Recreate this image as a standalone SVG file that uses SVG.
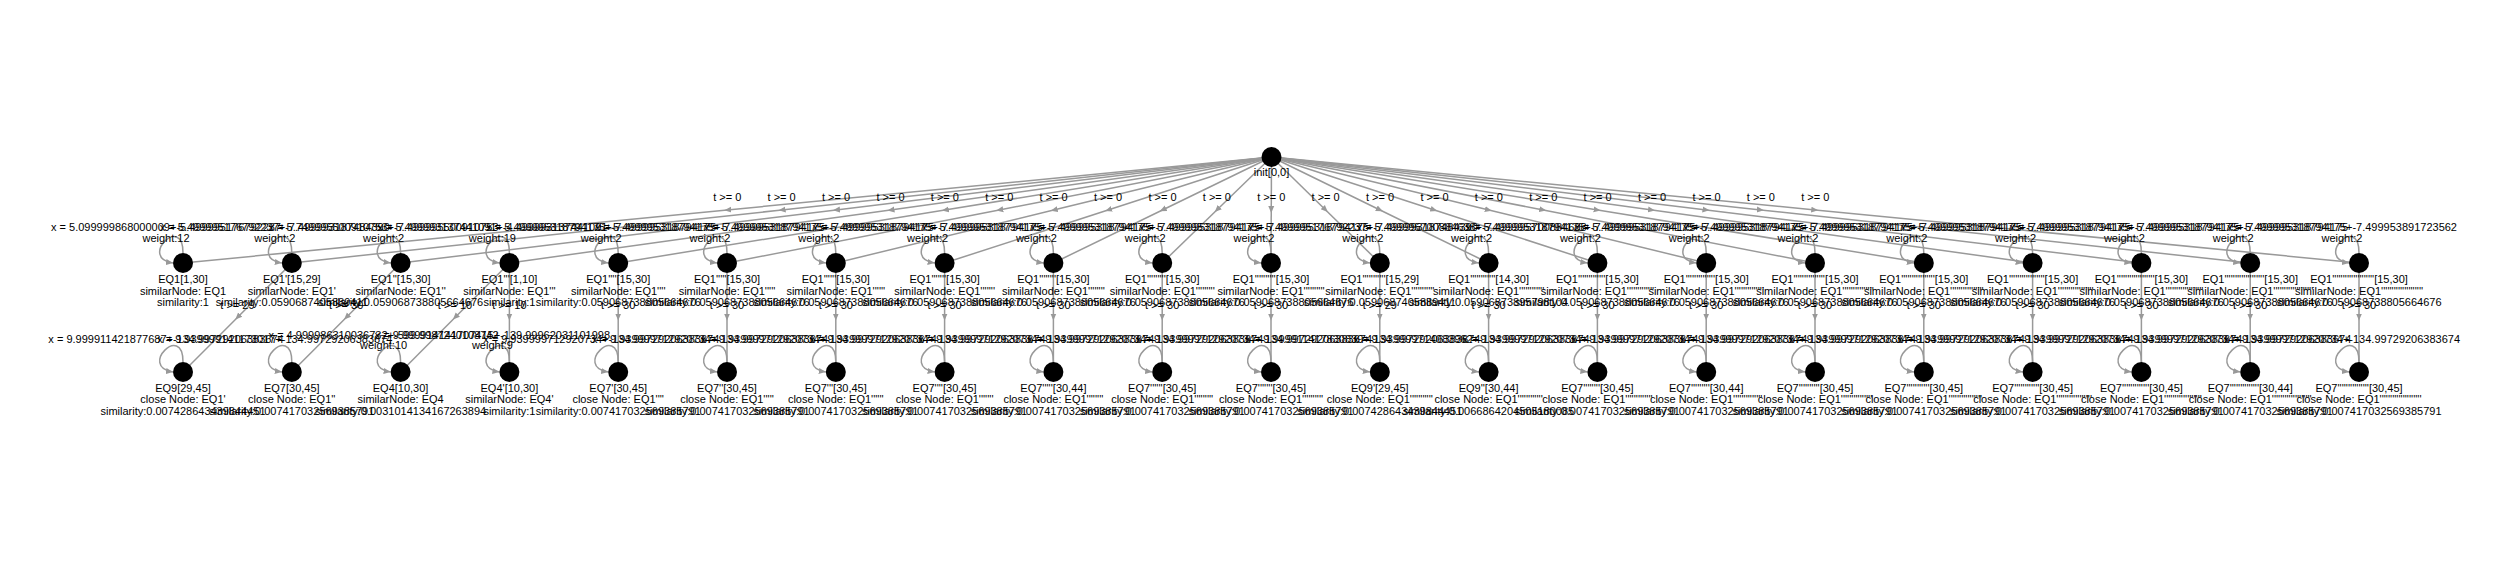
<svg xmlns="http://www.w3.org/2000/svg" width="2500" height="562" viewBox="0 0 2500 562">
<defs>
<style>
.e{fill:none;stroke:#999;stroke-width:1.5;marker-mid:url(#am)}
.l{fill:none;stroke:#999;stroke-width:1.5;marker-end:url(#ae)}
.n{fill:#000}
text{font-family:"Liberation Sans",Arial,sans-serif;font-size:11px;fill:#000;text-anchor:middle}
</style>
<marker id="am" markerWidth="8" markerHeight="8" refX="4" refY="4" orient="auto" markerUnits="userSpaceOnUse"><path d="M0,1 L7,4 L0,7 z" fill="#999"/></marker>
<marker id="ae" markerWidth="8" markerHeight="8" refX="7" refY="4" orient="auto" markerUnits="userSpaceOnUse"><path d="M0,1 L7,4 L0,7 z" fill="#999"/></marker>
</defs>
<rect width="2500" height="562" fill="#fff"/>
<g id="connectors">
<path class="e" d="M1271.5,157 L727.25,210 L183,263"/>
<path class="e" d="M1271.5,157 L781.65,210 L291.8,263"/>
<path class="e" d="M1271.5,157 L836.05,210 L400.6,263"/>
<path class="e" d="M1271.5,157 L890.45,210 L509.4,263"/>
<path class="e" d="M1271.5,157 L944.85,210 L618.2,263"/>
<path class="e" d="M1271.5,157 L999.25,210 L727,263"/>
<path class="e" d="M1271.5,157 L1053.65,210 L835.8,263"/>
<path class="e" d="M1271.5,157 L1108.05,210 L944.6,263"/>
<path class="e" d="M1271.5,157 L1162.45,210 L1053.4,263"/>
<path class="e" d="M1271.5,157 L1216.85,210 L1162.2,263"/>
<path class="e" d="M1271.5,157 L1271.25,210 L1271,263"/>
<path class="e" d="M1271.5,157 L1325.65,210 L1379.8,263"/>
<path class="e" d="M1271.5,157 L1380.05,210 L1488.6,263"/>
<path class="e" d="M1271.5,157 L1434.45,210 L1597.4,263"/>
<path class="e" d="M1271.5,157 L1488.85,210 L1706.2,263"/>
<path class="e" d="M1271.5,157 L1543.25,210 L1815,263"/>
<path class="e" d="M1271.5,157 L1597.65,210 L1923.8,263"/>
<path class="e" d="M1271.5,157 L1652.05,210 L2032.6,263"/>
<path class="e" d="M1271.5,157 L1706.45,210 L2141.4,263"/>
<path class="e" d="M1271.5,157 L1760.85,210 L2250.2,263"/>
<path class="e" d="M1271.5,157 L1815.25,210 L2359,263"/>
<text x="727.25" y="201">t &gt;= 0</text>
<text x="781.65" y="201">t &gt;= 0</text>
<text x="836.05" y="201">t &gt;= 0</text>
<text x="890.45" y="201">t &gt;= 0</text>
<text x="944.85" y="201">t &gt;= 0</text>
<text x="999.25" y="201">t &gt;= 0</text>
<text x="1053.65" y="201">t &gt;= 0</text>
<text x="1108.05" y="201">t &gt;= 0</text>
<text x="1162.45" y="201">t &gt;= 0</text>
<text x="1216.85" y="201">t &gt;= 0</text>
<text x="1271.25" y="201">t &gt;= 0</text>
<text x="1325.65" y="201">t &gt;= 0</text>
<text x="1380.05" y="201">t &gt;= 0</text>
<text x="1434.45" y="201">t &gt;= 0</text>
<text x="1488.85" y="201">t &gt;= 0</text>
<text x="1543.25" y="201">t &gt;= 0</text>
<text x="1597.65" y="201">t &gt;= 0</text>
<text x="1652.05" y="201">t &gt;= 0</text>
<text x="1706.45" y="201">t &gt;= 0</text>
<text x="1760.85" y="201">t &gt;= 0</text>
<text x="1815.25" y="201">t &gt;= 0</text>
<path class="e" d="M291.8,263 L237.4,317.5 L183,372"/>
<path class="e" d="M400.6,263 L346.2,317.5 L291.8,372"/>
<path class="e" d="M509.4,263 L455,317.5 L400.6,372"/>
<path class="e" d="M509.4,263 L509.4,317.5 L509.4,372"/>
<path class="e" d="M618.2,263 L618.2,317.5 L618.2,372"/>
<path class="e" d="M727,263 L727,317.5 L727,372"/>
<path class="e" d="M835.8,263 L835.8,317.5 L835.8,372"/>
<path class="e" d="M944.6,263 L944.6,317.5 L944.6,372"/>
<path class="e" d="M1053.4,263 L1053.4,317.5 L1053.4,372"/>
<path class="e" d="M1162.2,263 L1162.2,317.5 L1162.2,372"/>
<path class="e" d="M1271,263 L1271,317.5 L1271,372"/>
<path class="e" d="M1379.8,263 L1379.8,317.5 L1379.8,372"/>
<path class="e" d="M1488.6,263 L1488.6,317.5 L1488.6,372"/>
<path class="e" d="M1597.4,263 L1597.4,317.5 L1597.4,372"/>
<path class="e" d="M1706.2,263 L1706.2,317.5 L1706.2,372"/>
<path class="e" d="M1815,263 L1815,317.5 L1815,372"/>
<path class="e" d="M1923.8,263 L1923.8,317.5 L1923.8,372"/>
<path class="e" d="M2032.6,263 L2032.6,317.5 L2032.6,372"/>
<path class="e" d="M2141.4,263 L2141.4,317.5 L2141.4,372"/>
<path class="e" d="M2250.2,263 L2250.2,317.5 L2250.2,372"/>
<path class="e" d="M2359,263 L2359,317.5 L2359,372"/>
<text x="237.4" y="308.5">t &gt;= 29</text>
<text x="346.2" y="308.5">t &gt;= 30</text>
<text x="455" y="308.5">t &gt;= 10</text>
<text x="509.4" y="308.5">t &gt;= 10</text>
<text x="618.2" y="308.5">t &gt;= 30</text>
<text x="727" y="308.5">t &gt;= 30</text>
<text x="835.8" y="308.5">t &gt;= 30</text>
<text x="944.6" y="308.5">t &gt;= 30</text>
<text x="1053.4" y="308.5">t &gt;= 30</text>
<text x="1162.2" y="308.5">t &gt;= 30</text>
<text x="1271" y="308.5">t &gt;= 30</text>
<text x="1379.8" y="308.5">t &gt;= 29</text>
<text x="1488.6" y="308.5">t &gt;= 30</text>
<text x="1597.4" y="308.5">t &gt;= 30</text>
<text x="1706.2" y="308.5">t &gt;= 30</text>
<text x="1815" y="308.5">t &gt;= 30</text>
<text x="1923.8" y="308.5">t &gt;= 30</text>
<text x="2032.6" y="308.5">t &gt;= 30</text>
<text x="2141.4" y="308.5">t &gt;= 30</text>
<text x="2250.2" y="308.5">t &gt;= 30</text>
<text x="2359" y="308.5">t &gt;= 30</text>
<path class="l" d="M183,253 C183,213 138,258 173,263"/>
<path class="l" d="M291.8,253 C291.8,213 246.8,258 281.8,263"/>
<path class="l" d="M400.6,253 C400.6,213 355.6,258 390.6,263"/>
<path class="l" d="M509.4,253 C509.4,213 464.4,258 499.4,263"/>
<path class="l" d="M618.2,253 C618.2,213 573.2,258 608.2,263"/>
<path class="l" d="M727,253 C727,213 682,258 717,263"/>
<path class="l" d="M835.8,253 C835.8,213 790.8,258 825.8,263"/>
<path class="l" d="M944.6,253 C944.6,213 899.6,258 934.6,263"/>
<path class="l" d="M1053.4,253 C1053.4,213 1008.4,258 1043.4,263"/>
<path class="l" d="M1162.2,253 C1162.2,213 1117.2,258 1152.2,263"/>
<path class="l" d="M1271,253 C1271,213 1226,258 1261,263"/>
<path class="l" d="M1379.8,253 C1379.8,213 1334.8,258 1369.8,263"/>
<path class="l" d="M1488.6,253 C1488.6,213 1443.6,258 1478.6,263"/>
<path class="l" d="M1597.4,253 C1597.4,213 1552.4,258 1587.4,263"/>
<path class="l" d="M1706.2,253 C1706.2,213 1661.2,258 1696.2,263"/>
<path class="l" d="M1815,253 C1815,213 1770,258 1805,263"/>
<path class="l" d="M1923.8,253 C1923.8,213 1878.8,258 1913.8,263"/>
<path class="l" d="M2032.6,253 C2032.6,213 1987.6,258 2022.6,263"/>
<path class="l" d="M2141.4,253 C2141.4,213 2096.4,258 2131.4,263"/>
<path class="l" d="M2250.2,253 C2250.2,213 2205.2,258 2240.2,263"/>
<path class="l" d="M2359,253 C2359,213 2314,258 2349,263"/>
<path class="l" d="M183,362 C183,322 138,367 173,372"/>
<path class="l" d="M291.8,362 C291.8,322 246.8,367 281.8,372"/>
<path class="l" d="M400.6,362 C400.6,322 355.6,367 390.6,372"/>
<path class="l" d="M509.4,362 C509.4,322 464.4,367 499.4,372"/>
<path class="l" d="M618.2,362 C618.2,322 573.2,367 608.2,372"/>
<path class="l" d="M727,362 C727,322 682,367 717,372"/>
<path class="l" d="M835.8,362 C835.8,322 790.8,367 825.8,372"/>
<path class="l" d="M944.6,362 C944.6,322 899.6,367 934.6,372"/>
<path class="l" d="M1053.4,362 C1053.4,322 1008.4,367 1043.4,372"/>
<path class="l" d="M1162.2,362 C1162.2,322 1117.2,367 1152.2,372"/>
<path class="l" d="M1271,362 C1271,322 1226,367 1261,372"/>
<path class="l" d="M1379.8,362 C1379.8,322 1334.8,367 1369.8,372"/>
<path class="l" d="M1488.6,362 C1488.6,322 1443.6,367 1478.6,372"/>
<path class="l" d="M1597.4,362 C1597.4,322 1552.4,367 1587.4,372"/>
<path class="l" d="M1706.2,362 C1706.2,322 1661.2,367 1696.2,372"/>
<path class="l" d="M1815,362 C1815,322 1770,367 1805,372"/>
<path class="l" d="M1923.8,362 C1923.8,322 1878.8,367 1913.8,372"/>
<path class="l" d="M2032.6,362 C2032.6,322 1987.6,367 2022.6,372"/>
<path class="l" d="M2141.4,362 C2141.4,322 2096.4,367 2131.4,372"/>
<path class="l" d="M2250.2,362 C2250.2,322 2205.2,367 2240.2,372"/>
<path class="l" d="M2359,362 C2359,322 2314,367 2349,372"/>
<text x="166" y="230.5">x = 5.099999868000009+-5.499995176792237</text><text x="166" y="241.5">weight:12</text>
<text x="274.8" y="230.5">x = 5.499995176792237+-7.499993187484390</text><text x="274.8" y="241.5">weight:2</text>
<text x="383.6" y="230.5">x = 5.749995500910753+-7.499995500910753</text><text x="383.6" y="241.5">weight:2</text>
<text x="492.4" y="230.5">x = 5.499993137441091+-4.499993137441091</text><text x="492.4" y="241.5">weight:19</text>
<text x="601.2" y="230.5">x = 5.499995318794175+-7.499995318794175</text><text x="601.2" y="241.5">weight:2</text>
<text x="710" y="230.5">x = 5.499995318794175+-7.499995318794175</text><text x="710" y="241.5">weight:2</text>
<text x="818.8" y="230.5">x = 5.499995318794175+-7.499995318794175</text><text x="818.8" y="241.5">weight:2</text>
<text x="927.6" y="230.5">x = 5.499995318794175+-7.499995318794175</text><text x="927.6" y="241.5">weight:2</text>
<text x="1036.4" y="230.5">x = 5.499995318794175+-7.499995318794175</text><text x="1036.4" y="241.5">weight:2</text>
<text x="1145.2" y="230.5">x = 5.499995318794175+-7.499995318794175</text><text x="1145.2" y="241.5">weight:2</text>
<text x="1254" y="230.5">x = 5.499995318794175+-7.499995318794175</text><text x="1254" y="241.5">weight:2</text>
<text x="1362.8" y="230.5">x = 5.499995176792237+-7.499993187484390</text><text x="1362.8" y="241.5">weight:2</text>
<text x="1471.6" y="230.5">x = 5.499995700884638+-7.499995700884638</text><text x="1471.6" y="241.5">weight:2</text>
<text x="1580.4" y="230.5">x = 5.499995318794175+-7.499995318794175</text><text x="1580.4" y="241.5">weight:2</text>
<text x="1689.2" y="230.5">x = 5.499995318794175+-7.499995318794175</text><text x="1689.2" y="241.5">weight:2</text>
<text x="1798" y="230.5">x = 5.499995318794175+-7.499995318794175</text><text x="1798" y="241.5">weight:2</text>
<text x="1906.8" y="230.5">x = 5.499995318794175+-7.499995318794175</text><text x="1906.8" y="241.5">weight:2</text>
<text x="2015.6" y="230.5">x = 5.499995318794175+-7.499995318794175</text><text x="2015.6" y="241.5">weight:2</text>
<text x="2124.4" y="230.5">x = 5.499995318794175+-7.499995318794175</text><text x="2124.4" y="241.5">weight:2</text>
<text x="2233.2" y="230.5">x = 5.499995318794175+-7.499995318794175</text><text x="2233.2" y="241.5">weight:2</text>
<text x="2342" y="230.5">x = 5.499995318794175+-7.499953891723562</text><text x="2342" y="241.5">weight:2</text>
<text x="166" y="343">x = 9.999911421877687+-134.99729206383674</text>
<text x="274.8" y="343">x = 9.939999141173017+-134.99729206383674</text>
<text x="383.6" y="339">x = 4.999986310036732+-599.9987240108742</text><text x="383.6" y="349">weight:10</text>
<text x="492.4" y="339">x = 9.999914141707415+-139.99962031101998</text><text x="492.4" y="349">weight:9</text>
<text x="601.2" y="343">x = 9.939999712920734+-134.99729206383674</text>
<text x="710" y="343">x = 9.939999712920734+-134.99729206383674</text>
<text x="818.8" y="343">x = 9.939999712920734+-134.99729206383674</text>
<text x="927.6" y="343">x = 9.939999712920734+-134.99729206383674</text>
<text x="1036.4" y="343">x = 9.939999712920734+-134.99729206383674</text>
<text x="1145.2" y="343">x = 9.939999712920734+-134.99729206383674</text>
<text x="1254" y="343">x = 9.939999712920734+-134.99729206383674</text>
<text x="1362.8" y="343">x = 9.999911417830839+-134.99729206383674</text>
<text x="1471.6" y="343">x = 9.939999714083962+-134.99729206383674</text>
<text x="1580.4" y="343">x = 9.939999712920734+-134.99729206383674</text>
<text x="1689.2" y="343">x = 9.939999712920734+-134.99729206383674</text>
<text x="1798" y="343">x = 9.939999712920734+-134.99729206383674</text>
<text x="1906.8" y="343">x = 9.939999712920734+-134.99729206383674</text>
<text x="2015.6" y="343">x = 9.939999712920734+-134.99729206383674</text>
<text x="2124.4" y="343">x = 9.939999712920734+-134.99729206383674</text>
<text x="2233.2" y="343">x = 9.939999712920734+-134.99729206383674</text>
<text x="2342" y="343">x = 9.939999712920734+-134.99729206383674</text>
</g>
<g id="n-init"><circle class="n" cx="1271.5" cy="157" r="10"/><text x="1271.5" y="176">init[0,0]</text></g>
<g id="n-a0"><circle class="n" cx="183" cy="263" r="10"/><text x="183" y="283">EQ1[1,30]</text><text x="183" y="294.5">similarNode: EQ1</text><text x="183" y="306">similarity:1</text></g>
<g id="n-a1"><circle class="n" cx="291.8" cy="263" r="10"/><text x="291.8" y="283">EQ1'[15,29]</text><text x="291.8" y="294.5">similarNode: EQ1'</text><text x="291.8" y="306">similarity:0.0590687405889411</text></g>
<g id="n-a2"><circle class="n" cx="400.6" cy="263" r="10"/><text x="400.6" y="283">EQ1''[15,30]</text><text x="400.6" y="294.5">similarNode: EQ1''</text><text x="400.6" y="306">similarity:0.059068738805664676</text></g>
<g id="n-a3"><circle class="n" cx="509.4" cy="263" r="10"/><text x="509.4" y="283">EQ1'''[1,10]</text><text x="509.4" y="294.5">similarNode: EQ1'''</text><text x="509.4" y="306">similarity:1</text></g>
<g id="n-a4"><circle class="n" cx="618.2" cy="263" r="10"/><text x="618.2" y="283">EQ1''''[15,30]</text><text x="618.2" y="294.5">similarNode: EQ1''''</text><text x="618.2" y="306">similarity:0.059068738805664676</text></g>
<g id="n-a5"><circle class="n" cx="727" cy="263" r="10"/><text x="727" y="283">EQ1'''''[15,30]</text><text x="727" y="294.5">similarNode: EQ1'''''</text><text x="727" y="306">similarity:0.059068738805664676</text></g>
<g id="n-a6"><circle class="n" cx="835.8" cy="263" r="10"/><text x="835.8" y="283">EQ1''''''[15,30]</text><text x="835.8" y="294.5">similarNode: EQ1''''''</text><text x="835.8" y="306">similarity:0.059068738805664676</text></g>
<g id="n-a7"><circle class="n" cx="944.6" cy="263" r="10"/><text x="944.6" y="283">EQ1'''''''[15,30]</text><text x="944.6" y="294.5">similarNode: EQ1'''''''</text><text x="944.6" y="306">similarity:0.059068738805664676</text></g>
<g id="n-a8"><circle class="n" cx="1053.4" cy="263" r="10"/><text x="1053.4" y="283">EQ1''''''''[15,30]</text><text x="1053.4" y="294.5">similarNode: EQ1''''''''</text><text x="1053.4" y="306">similarity:0.059068738805664676</text></g>
<g id="n-a9"><circle class="n" cx="1162.2" cy="263" r="10"/><text x="1162.2" y="283">EQ1'''''''''[15,30]</text><text x="1162.2" y="294.5">similarNode: EQ1'''''''''</text><text x="1162.2" y="306">similarity:0.059068738805664676</text></g>
<g id="n-a10"><circle class="n" cx="1271" cy="263" r="10"/><text x="1271" y="283">EQ1''''''''''[15,30]</text><text x="1271" y="294.5">similarNode: EQ1''''''''''</text><text x="1271" y="306">similarity:0.059068738805664676</text></g>
<g id="n-a11"><circle class="n" cx="1379.8" cy="263" r="10"/><text x="1379.8" y="283">EQ1'''''''''''[15,29]</text><text x="1379.8" y="294.5">similarNode: EQ1'''''''''''</text><text x="1379.8" y="306">similarity:0.0590687405889411</text></g>
<g id="n-a12"><circle class="n" cx="1488.6" cy="263" r="10"/><text x="1488.6" y="283">EQ1''''''''''''[14,30]</text><text x="1488.6" y="294.5">similarNode: EQ1''''''''''''</text><text x="1488.6" y="306">similarity:0.05906873895798104</text></g>
<g id="n-a13"><circle class="n" cx="1597.4" cy="263" r="10"/><text x="1597.4" y="283">EQ1'''''''''''''[15,30]</text><text x="1597.4" y="294.5">similarNode: EQ1'''''''''''''</text><text x="1597.4" y="306">similarity:0.059068738805664676</text></g>
<g id="n-a14"><circle class="n" cx="1706.2" cy="263" r="10"/><text x="1706.2" y="283">EQ1''''''''''''''[15,30]</text><text x="1706.2" y="294.5">similarNode: EQ1''''''''''''''</text><text x="1706.2" y="306">similarity:0.059068738805664676</text></g>
<g id="n-a15"><circle class="n" cx="1815" cy="263" r="10"/><text x="1815" y="283">EQ1'''''''''''''''[15,30]</text><text x="1815" y="294.5">similarNode: EQ1'''''''''''''''</text><text x="1815" y="306">similarity:0.059068738805664676</text></g>
<g id="n-a16"><circle class="n" cx="1923.8" cy="263" r="10"/><text x="1923.8" y="283">EQ1''''''''''''''''[15,30]</text><text x="1923.8" y="294.5">similarNode: EQ1''''''''''''''''</text><text x="1923.8" y="306">similarity:0.059068738805664676</text></g>
<g id="n-a17"><circle class="n" cx="2032.6" cy="263" r="10"/><text x="2032.6" y="283">EQ1'''''''''''''''''[15,30]</text><text x="2032.6" y="294.5">similarNode: EQ1'''''''''''''''''</text><text x="2032.6" y="306">similarity:0.059068738805664676</text></g>
<g id="n-a18"><circle class="n" cx="2141.4" cy="263" r="10"/><text x="2141.4" y="283">EQ1''''''''''''''''''[15,30]</text><text x="2141.4" y="294.5">similarNode: EQ1''''''''''''''''''</text><text x="2141.4" y="306">similarity:0.059068738805664676</text></g>
<g id="n-a19"><circle class="n" cx="2250.2" cy="263" r="10"/><text x="2250.2" y="283">EQ1'''''''''''''''''''[15,30]</text><text x="2250.2" y="294.5">similarNode: EQ1'''''''''''''''''''</text><text x="2250.2" y="306">similarity:0.059068738805664676</text></g>
<g id="n-a20"><circle class="n" cx="2359" cy="263" r="10"/><text x="2359" y="283">EQ1''''''''''''''''''''[15,30]</text><text x="2359" y="294.5">similarNode: EQ1''''''''''''''''''''</text><text x="2359" y="306">similarity:0.059068738805664676</text></g>
<g id="n-b0"><circle class="n" cx="183" cy="372" r="10"/><text x="183" y="391.5">EQ9[29,45]</text><text x="183" y="403">close Node: EQ1'</text><text x="183" y="414.5">similarity:0.007428643439844451</text></g>
<g id="n-b1"><circle class="n" cx="291.8" cy="372" r="10"/><text x="291.8" y="391.5">EQ7[30,45]</text><text x="291.8" y="403">close Node: EQ1''</text><text x="291.8" y="414.5">similarity:0.007417032569385791</text></g>
<g id="n-b2"><circle class="n" cx="400.6" cy="372" r="10"/><text x="400.6" y="391.5">EQ4[10,30]</text><text x="400.6" y="403">similarNode: EQ4</text><text x="400.6" y="414.5">similarity:0.0031014134167263894</text></g>
<g id="n-b3"><circle class="n" cx="509.4" cy="372" r="10"/><text x="509.4" y="391.5">EQ4'[10,30]</text><text x="509.4" y="403">similarNode: EQ4'</text><text x="509.4" y="414.5">similarity:1</text></g>
<g id="n-b4"><circle class="n" cx="618.2" cy="372" r="10"/><text x="618.2" y="391.5">EQ7'[30,45]</text><text x="618.2" y="403">close Node: EQ1''''</text><text x="618.2" y="414.5">similarity:0.007417032569385791</text></g>
<g id="n-b5"><circle class="n" cx="727" cy="372" r="10"/><text x="727" y="391.5">EQ7''[30,45]</text><text x="727" y="403">close Node: EQ1'''''</text><text x="727" y="414.5">similarity:0.007417032569385791</text></g>
<g id="n-b6"><circle class="n" cx="835.8" cy="372" r="10"/><text x="835.8" y="391.5">EQ7'''[30,45]</text><text x="835.8" y="403">close Node: EQ1''''''</text><text x="835.8" y="414.5">similarity:0.007417032569385791</text></g>
<g id="n-b7"><circle class="n" cx="944.6" cy="372" r="10"/><text x="944.6" y="391.5">EQ7''''[30,45]</text><text x="944.6" y="403">close Node: EQ1'''''''</text><text x="944.6" y="414.5">similarity:0.007417032569385791</text></g>
<g id="n-b8"><circle class="n" cx="1053.4" cy="372" r="10"/><text x="1053.4" y="391.5">EQ7'''''[30,44]</text><text x="1053.4" y="403">close Node: EQ1''''''''</text><text x="1053.4" y="414.5">similarity:0.007417032569385791</text></g>
<g id="n-b9"><circle class="n" cx="1162.2" cy="372" r="10"/><text x="1162.2" y="391.5">EQ7''''''[30,45]</text><text x="1162.2" y="403">close Node: EQ1'''''''''</text><text x="1162.2" y="414.5">similarity:0.007417032569385791</text></g>
<g id="n-b10"><circle class="n" cx="1271" cy="372" r="10"/><text x="1271" y="391.5">EQ7'''''''[30,45]</text><text x="1271" y="403">close Node: EQ1''''''''''</text><text x="1271" y="414.5">similarity:0.007417032569385791</text></g>
<g id="n-b11"><circle class="n" cx="1379.8" cy="372" r="10"/><text x="1379.8" y="391.5">EQ9'[29,45]</text><text x="1379.8" y="403">close Node: EQ1'''''''''''</text><text x="1379.8" y="414.5">similarity:0.007428643439844451</text></g>
<g id="n-b12"><circle class="n" cx="1488.6" cy="372" r="10"/><text x="1488.6" y="391.5">EQ9''[30,44]</text><text x="1488.6" y="403">close Node: EQ1''''''''''''</text><text x="1488.6" y="414.5">similarity:0.0066864204505180085</text></g>
<g id="n-b13"><circle class="n" cx="1597.4" cy="372" r="10"/><text x="1597.4" y="391.5">EQ7''''''''[30,45]</text><text x="1597.4" y="403">close Node: EQ1'''''''''''''</text><text x="1597.4" y="414.5">similarity:0.007417032569385791</text></g>
<g id="n-b14"><circle class="n" cx="1706.2" cy="372" r="10"/><text x="1706.2" y="391.5">EQ7'''''''''[30,44]</text><text x="1706.2" y="403">close Node: EQ1''''''''''''''</text><text x="1706.2" y="414.5">similarity:0.007417032569385791</text></g>
<g id="n-b15"><circle class="n" cx="1815" cy="372" r="10"/><text x="1815" y="391.5">EQ7''''''''''[30,45]</text><text x="1815" y="403">close Node: EQ1'''''''''''''''</text><text x="1815" y="414.5">similarity:0.007417032569385791</text></g>
<g id="n-b16"><circle class="n" cx="1923.8" cy="372" r="10"/><text x="1923.8" y="391.5">EQ7'''''''''''[30,45]</text><text x="1923.8" y="403">close Node: EQ1''''''''''''''''</text><text x="1923.8" y="414.5">similarity:0.007417032569385791</text></g>
<g id="n-b17"><circle class="n" cx="2032.6" cy="372" r="10"/><text x="2032.6" y="391.5">EQ7''''''''''''[30,45]</text><text x="2032.6" y="403">close Node: EQ1'''''''''''''''''</text><text x="2032.6" y="414.5">similarity:0.007417032569385791</text></g>
<g id="n-b18"><circle class="n" cx="2141.4" cy="372" r="10"/><text x="2141.4" y="391.5">EQ7'''''''''''''[30,45]</text><text x="2141.4" y="403">close Node: EQ1''''''''''''''''''</text><text x="2141.4" y="414.5">similarity:0.007417032569385791</text></g>
<g id="n-b19"><circle class="n" cx="2250.2" cy="372" r="10"/><text x="2250.2" y="391.5">EQ7''''''''''''''[30,44]</text><text x="2250.2" y="403">close Node: EQ1'''''''''''''''''''</text><text x="2250.2" y="414.5">similarity:0.007417032569385791</text></g>
<g id="n-b20"><circle class="n" cx="2359" cy="372" r="10"/><text x="2359" y="391.5">EQ7'''''''''''''''[30,45]</text><text x="2359" y="403">close Node: EQ1''''''''''''''''''''</text><text x="2359" y="414.5">similarity:0.007417032569385791</text></g>
</svg>
